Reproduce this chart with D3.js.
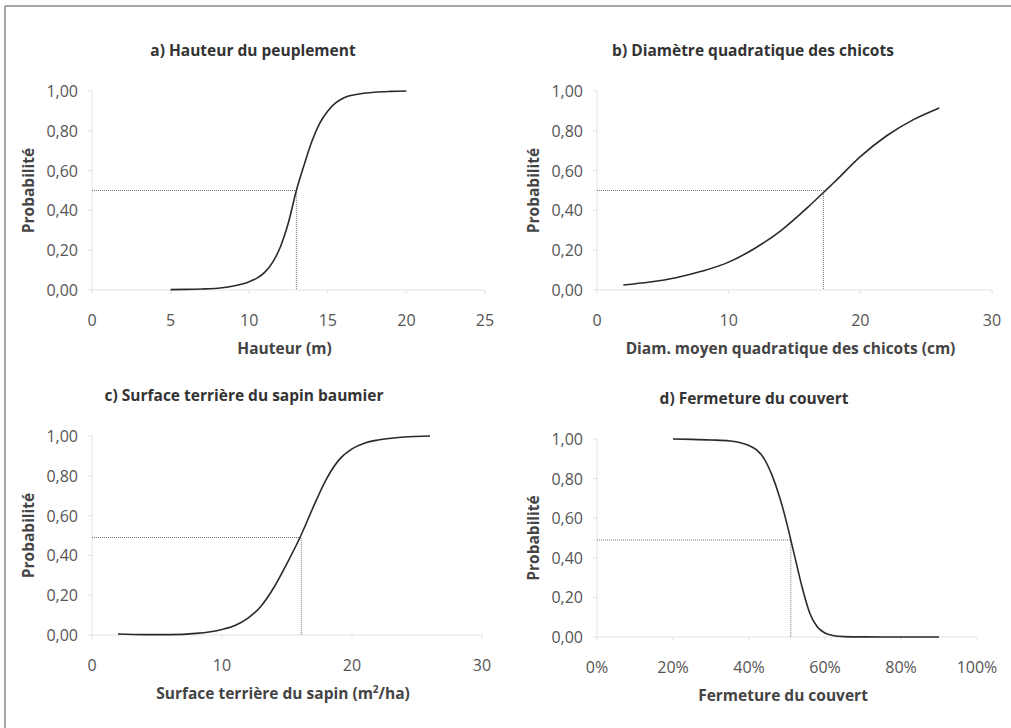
<!DOCTYPE html>
<html>
<head>
<meta charset="utf-8">
<script src="https://cdn.jsdelivr.net/npm/d3@7"></script>
<style>
  body { margin: 0; background: #fff; }
  svg { display: block; font-family: "Open Sans", "Noto Sans", sans-serif; }
  .tick-label { font-size: 16px; fill: #555; }
  .title { font-size: 15.5px; font-weight: bold; fill: #333; }
  .axis-title { font-size: 15.5px; font-weight: bold; fill: #444; }
  .curve { fill: none; stroke: #2a2a2a; stroke-width: 1.6px; }
  .cut { fill: none; stroke: #777; stroke-width: 1px; stroke-dasharray: 1,1; }
  .axis-line { stroke: #e2e2e2; stroke-width: 1px; }
</style>
</head>
<body>
<svg width="1011" height="728"></svg>
<script>
// a) Hauteur du peuplement
const hauteurX = [5, 6, 7, 8, 9, 10, 10.5, 11, 11.5, 12, 12.5, 13, 13.5, 14, 14.5, 15, 15.5, 16, 17, 18, 19, 20];
const hauteurY = [0.002, 0.003, 0.005, 0.009, 0.02, 0.042, 0.06, 0.09, 0.14, 0.22, 0.34, 0.5, 0.63, 0.75, 0.84, 0.9, 0.94, 0.965, 0.985, 0.994, 0.998, 1.0];

// b) Diametre quadratique des chicots
const diamX = [2, 4, 6, 8, 10, 12, 14, 16, 17.2, 18, 20, 22, 24, 26];
const diamY = [0.025, 0.04, 0.062, 0.095, 0.14, 0.21, 0.3, 0.415, 0.49, 0.54, 0.67, 0.775, 0.855, 0.915];

// c) Surface terriere du sapin baumier
const surfX = [2, 4, 6, 8, 10, 11, 12, 13, 14, 15, 16, 17, 18, 19, 20, 21, 22, 24, 26];
const surfY = [0.005, 0.002, 0.002, 0.008, 0.028, 0.048, 0.085, 0.145, 0.24, 0.36, 0.49, 0.64, 0.78, 0.88, 0.935, 0.965, 0.98, 0.995, 1.0];

// d) Fermeture du couvert (%)
const fermX = [20, 25, 30, 35, 38, 40, 42, 44, 46, 48, 50, 51, 52, 54, 56, 58, 60, 62, 65, 70, 80, 90];
const fermY = [1.0, 0.998, 0.995, 0.99, 0.98, 0.967, 0.945, 0.9, 0.82, 0.71, 0.57, 0.49, 0.41, 0.25, 0.12, 0.05, 0.02, 0.008, 0.002, 0.0005, 0, 0];

// seuils (x, probabilite) pour les pointilles
const cutA = [13, 0.5];
const cutB = [17.2, 0.5];
const cutC = [16.1, 0.49];
const cutD = [51, 0.49];

const yTicks = [0, 0.2, 0.4, 0.6, 0.8, 1.0];

const panels = [
  { title: 'a) Hauteur du peuplement', xLabel: 'Hauteur (m)', xs: hauteurX, ys: hauteurY, cut: cutA,
    xDomain: [0, 25], xTicks: [0, 5, 10, 15, 20, 25], fmt: d => d,
    x0: 92, x1: 485, yTop: 91, yBot: 290, titleX: 253 },
  { title: 'b) Diamètre quadratique des chicots', xLabel: 'Diam. moyen quadratique des chicots (cm)', xs: diamX, ys: diamY, cut: cutB,
    xDomain: [0, 30], xTicks: [0, 10, 20, 30], fmt: d => d,
    x0: 597, x1: 992, yTop: 91, yBot: 290, titleX: 753 },
  { title: 'c) Surface terrière du sapin baumier', xLabel: 'Surface terrière du sapin (m²/ha)', xs: surfX, ys: surfY, cut: cutC,
    xDomain: [0, 30], xTicks: [0, 10, 20, 30], fmt: d => d,
    x0: 92, x1: 482, yTop: 436, yBot: 635, titleX: 244 },
  { title: 'd) Fermeture du couvert', xLabel: 'Fermeture du couvert', xs: fermX, ys: fermY, cut: cutD,
    xDomain: [0, 100], xTicks: [0, 20, 40, 60, 80, 100], fmt: d => d + '%',
    x0: 597, x1: 977, yTop: 439, yBot: 637, titleX: 754 }
];

const svg = d3.select('svg');

// cadre (haut et gauche seulement visibles)
svg.append('line').attr('x1', 5).attr('y1', 6).attr('x2', 1011).attr('y2', 6)
  .attr('stroke', '#888').attr('stroke-width', 1.5);
svg.append('line').attr('x1', 5).attr('y1', 6).attr('x2', 5).attr('y2', 728)
  .attr('stroke', '#888').attr('stroke-width', 1.5);

const yFmt = d => d3.format('.2f')(d).replace('.', ',');

panels.forEach(p => {
  const x = d3.scaleLinear().domain(p.xDomain).range([p.x0, p.x1]);
  const y = d3.scaleLinear().domain([0, 1]).range([p.yBot, p.yTop]);
  const g = svg.append('g');

  // axes tres pales
  g.append('line').attr('class', 'axis-line')
    .attr('x1', p.x0).attr('x2', p.x1).attr('y1', p.yBot).attr('y2', p.yBot);
  g.append('line').attr('class', 'axis-line')
    .attr('x1', p.x0).attr('x2', p.x0).attr('y1', p.yBot).attr('y2', p.yTop);

  g.selectAll('.ytick').data(yTicks).enter().append('line').attr('class', 'axis-line')
    .attr('x1', p.x0 - 4).attr('x2', p.x0).attr('y1', d => y(d)).attr('y2', d => y(d));
  g.selectAll('.xtick').data(p.xTicks).enter().append('line').attr('class', 'axis-line')
    .attr('x1', d => x(d)).attr('x2', d => x(d)).attr('y1', p.yBot).attr('y2', p.yBot + 4);

  g.selectAll('.ylab').data(yTicks).enter().append('text')
    .attr('class', 'tick-label')
    .attr('x', p.x0 - 14).attr('y', d => y(d) + 6)
    .attr('text-anchor', 'end')
    .text(yFmt);

  g.selectAll('.xlab').data(p.xTicks).enter().append('text')
    .attr('class', 'tick-label')
    .attr('x', d => x(d)).attr('y', p.yBot + 36)
    .attr('text-anchor', 'middle')
    .text(p.fmt);

  // titres
  g.append('text').attr('class', 'title')
    .attr('x', p.titleX).attr('y', p.yTop - 35)
    .attr('text-anchor', 'middle').text(p.title);

  const xl = g.append('text').attr('class', 'axis-title')
    .attr('x', (p.x0 + p.x1) / 2 - 4).attr('y', p.yBot + 64)
    .attr('text-anchor', 'middle');
  if (p.xLabel.includes('m²')) {
    xl.append('tspan').text('Surface terrière du sapin (m');
    xl.append('tspan').attr('dy', -6).attr('font-size', '10px').text('2');
    xl.append('tspan').attr('dy', 6).text('/ha)');
  } else {
    xl.text(p.xLabel);
  }

  g.append('text').attr('class', 'axis-title')
    .attr('transform', `translate(${p.x0 - 58},${(p.yTop + p.yBot) / 2})rotate(-90)`)
    .attr('text-anchor', 'middle').text('Probabilité');

  // pointilles au seuil de 0,5
  const [cx, cy] = p.cut;
  g.append('path').attr('class', 'cut')
    .attr('d', d3.line()([[x(0), y(cy)], [x(cx), y(cy)], [x(cx), y(0)]]));

  // courbe
  const pts = p.xs.map((v, i) => [v, p.ys[i]]);
  g.append('path').attr('class', 'curve')
    .attr('d', d3.line().x(d => x(d[0])).y(d => y(d[1])).curve(d3.curveMonotoneX)(pts));
});
</script>
</body>
</html>
